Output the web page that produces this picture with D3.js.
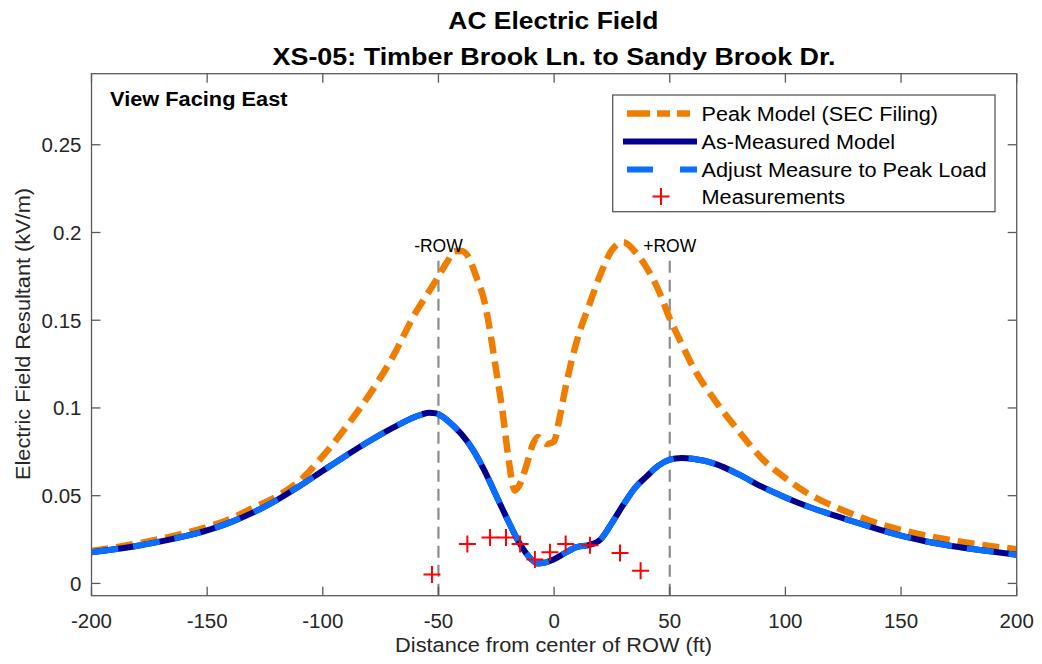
<!DOCTYPE html>
<html>
<head>
<meta charset="utf-8">
<script src="https://cdn.jsdelivr.net/npm/d3@7"></script>
<style>
  html, body { margin: 0; padding: 0; background: #fff; }
  svg { display: block; font-family: "Liberation Sans", Arial, Helvetica, sans-serif; }
</style>
</head>
<body>
<svg id="chart" width="1042" height="664"></svg>
<script>
// ---- data ----
const peakDist   = [-200,-180,-160,-150,-140,-130,-120,-110,-100,-90,-80,-70,-60,-55,-50,-46,-43,-40,-37,-34,-30,-25,-22,-20,-17,-15,-12,-9,-7,-5,-3,0,2,5,10,15,20,25,30,35,40,45,50,55,60,70,80,90,100,110,120,130,140,150,160,170,180,190,200];
const peakValues = [0.0185,0.0228,0.0285,0.0322,0.0368,0.0432,0.0495,0.0585,0.0725,0.0890,0.1073,0.1285,0.1540,0.1645,0.1750,0.1838,0.1893,0.1895,0.1860,0.1760,0.1600,0.1210,0.0950,0.0740,0.0530,0.0560,0.0670,0.0800,0.0835,0.0812,0.0795,0.0810,0.0920,0.1120,0.1390,0.1580,0.1760,0.1900,0.1945,0.1890,0.1800,0.1675,0.1510,0.1370,0.1235,0.1035,0.0865,0.0710,0.0600,0.0510,0.0445,0.0390,0.0342,0.0305,0.0275,0.0250,0.0229,0.0211,0.0195];

const measDist     = [-200,-180,-160,-150,-140,-130,-120,-110,-100,-90,-80,-70,-60,-57,-54,-51,-48,-45,-42,-40,-35,-30,-25,-20,-15,-10,-7,-5,0,5,10,15,20,25,30,35,40,45,50,55,60,70,80,90,100,110,120,130,140,150,160,170,180,190,200];
const measValues   = [0.0178,0.0215,0.0268,0.0302,0.0348,0.0405,0.0474,0.0555,0.0642,0.0728,0.0810,0.0885,0.0950,0.0964,0.0972,0.0969,0.0948,0.0915,0.0878,0.0850,0.0760,0.0640,0.0500,0.0360,0.0230,0.0140,0.0114,0.0116,0.0138,0.0175,0.0208,0.0218,0.0250,0.0345,0.0450,0.0545,0.0610,0.0670,0.0705,0.0715,0.0710,0.0680,0.0620,0.0550,0.0490,0.0437,0.0392,0.0350,0.0310,0.0272,0.0242,0.0218,0.0198,0.0180,0.0163];
const adjustValues = [0.0178,0.0215,0.0268,0.0302,0.0348,0.0405,0.0474,0.0555,0.0642,0.0728,0.0810,0.0885,0.0950,0.0964,0.0972,0.0969,0.0948,0.0915,0.0878,0.0850,0.0760,0.0640,0.0500,0.0360,0.0230,0.0140,0.0114,0.0116,0.0138,0.0175,0.0208,0.0218,0.0250,0.0345,0.0450,0.0545,0.0610,0.0670,0.0705,0.0715,0.0710,0.0680,0.0620,0.0550,0.0490,0.0437,0.0392,0.0350,0.0310,0.0272,0.0242,0.0218,0.0198,0.0180,0.0163];

const obsDist   = [-52.8,-37.5,-27.7,-20.8,-14.7,-8.3,-1.8,5.0,15.5,28.5,37.4];
const obsValues = [0.0051,0.0224,0.0262,0.0262,0.0224,0.0137,0.0177,0.0224,0.0218,0.0174,0.0072];

const rowEdges  = [-50, 50];
const rowLabels = ["-ROW", "+ROW"];

const xTicks = [-200,-150,-100,-50,0,50,100,150,200];
const yTicks = [0,0.05,0.1,0.15,0.2,0.25];
const yTickLabels = ["0","0.05","0.1","0.15","0.2","0.25"];

const legendLabels = ["Peak Model (SEC Filing)","As-Measured Model","Adjust Measure to Peak Load","Measurements"];
const legendWidths = [236.5, 193.5, 285, 143.5];

// ---- layout ----
const svg = d3.select("#chart");
const L = 91.5, R = 1016.7, T = 73.7, B = 595.7;
const x = d3.scaleLinear().domain([-200, 200]).range([L, R]);
const y = d3.scaleLinear().domain([-0.007, 0.2905]).range([B, T]);

const axisColor = "#262626";
const boxColor = "#5a5a5a";
const tickLen = 9;

svg.append("defs").append("clipPath").attr("id","clip")
  .append("rect").attr("x",L).attr("y",T).attr("width",R-L).attr("height",B-T);

const plot = svg.append("g").attr("clip-path","url(#clip)");

// ROW lines
plot.selectAll("line.row").data(rowEdges).enter().append("line")
  .attr("class","row")
  .attr("x1", d => x(d)).attr("x2", d => x(d))
  .attr("y1", y(-0.007)).attr("y2", y(0.186))
  .attr("stroke","#8c8c8c").attr("stroke-width",2.2)
  .attr("stroke-dasharray","12,7");

svg.selectAll("text.rowlab").data(rowEdges).enter().append("text")
  .attr("class","rowlab")
  .attr("x", d => x(d)).attr("y", 252)
  .attr("text-anchor","middle")
  .attr("font-size", 17.5)
  .attr("fill","#000")
  .text((d,i) => rowLabels[i]);

const line = d3.line().curve(d3.curveMonotoneX).x(d => x(d[0])).y(d => y(d[1]));

const peakData = peakDist.map((d,i) => [d, peakValues[i]]);
const measData = measDist.map((d,i) => [d, measValues[i]]);
const adjData  = measDist.map((d,i) => [d, adjustValues[i]]);

const orange = "#EE7D00", navy = "#00008C", lblue = "#0A6EFF";

plot.append("path").datum(peakData).attr("d", line)
  .attr("fill","none").attr("stroke",orange).attr("stroke-width",6.5)
  .attr("stroke-dasharray","17,8");

plot.append("path").datum(measData).attr("d", line)
  .attr("fill","none").attr("stroke",navy).attr("stroke-width",6);

plot.append("path").datum(adjData).attr("d", line)
  .attr("fill","none").attr("stroke",lblue).attr("stroke-width",6)
  .attr("stroke-dasharray","27,15");

// markers
const ms = 8.5;
const mk = svg.append("g");
obsDist.forEach((d,i) => {
  const cx = x(d), cy = y(obsValues[i]);
  mk.append("path")
    .attr("d", `M${cx-ms},${cy}H${cx+ms}M${cx},${cy-ms}V${cy+ms}`)
    .attr("stroke","#FF0000").attr("stroke-width",2).attr("fill","none");
});

// axes box
const ax = svg.append("g");
ax.append("rect").attr("x",L).attr("y",T).attr("width",R-L).attr("height",B-T)
  .attr("fill","none").attr("stroke",boxColor).attr("stroke-width",1.3);

xTicks.forEach(t => {
  const px = x(t);
  ax.append("line").attr("x1",px).attr("x2",px).attr("y1",B).attr("y2",B-tickLen)
    .attr("stroke",boxColor).attr("stroke-width",1.3);
  ax.append("line").attr("x1",px).attr("x2",px).attr("y1",T).attr("y2",T+tickLen)
    .attr("stroke",boxColor).attr("stroke-width",1.3);
  ax.append("text").attr("x",px).attr("y",627.5).attr("text-anchor","middle")
    .attr("font-size",20.5).attr("fill",axisColor).text(t);
});
yTicks.forEach((t,i) => {
  const py = y(t);
  ax.append("line").attr("x1",L).attr("x2",L+tickLen).attr("y1",py).attr("y2",py)
    .attr("stroke",boxColor).attr("stroke-width",1.3);
  ax.append("line").attr("x1",R).attr("x2",R-tickLen).attr("y1",py).attr("y2",py)
    .attr("stroke",boxColor).attr("stroke-width",1.3);
  ax.append("text").attr("x",L-10).attr("y",py+7.3).attr("text-anchor","end")
    .attr("font-size",20.5).attr("fill",axisColor).text(yTickLabels[i]);
});

// axis labels
svg.append("text").attr("x",(L+R)/2 - 0.5).attr("y",652).attr("text-anchor","middle")
  .attr("font-size",20.5).attr("fill",axisColor)
  .attr("textLength",317).attr("lengthAdjust","spacingAndGlyphs")
  .text("Distance from center of ROW (ft)");
svg.append("text").attr("transform",`translate(30,334) rotate(-90)`)
  .attr("text-anchor","middle").attr("font-size",20.5).attr("fill",axisColor)
  .attr("textLength",292).attr("lengthAdjust","spacingAndGlyphs")
  .text("Electric Field Resultant (kV/m)");

// titles
svg.append("text").attr("x",553.3).attr("y",28.5).attr("text-anchor","middle")
  .attr("font-size",24.5).attr("font-weight","bold").attr("fill","#000")
  .attr("textLength",210).attr("lengthAdjust","spacingAndGlyphs")
  .text("AC Electric Field");
svg.append("text").attr("x",554).attr("y",64.5).attr("text-anchor","middle")
  .attr("font-size",24.5).attr("font-weight","bold").attr("fill","#000")
  .attr("textLength",563).attr("lengthAdjust","spacingAndGlyphs")
  .text("XS-05: Timber Brook Ln. to Sandy Brook Dr.");

// annotation
svg.append("text").attr("x",110).attr("y",105.7).attr("font-size",19.5)
  .attr("font-weight","bold").attr("fill","#000")
  .attr("textLength",177.5).attr("lengthAdjust","spacingAndGlyphs")
  .text("View Facing East");

// legend
const lg = svg.append("g");
lg.append("rect").attr("x",612.7).attr("y",95).attr("width",995-612.7).attr("height",211.7-95)
  .attr("fill","#fff").attr("stroke",boxColor).attr("stroke-width",1.3);
const rowY = [113.5, 141.5, 169.5, 196.5];
const lx1 = 623, lx2 = 697;
lg.append("line").attr("x1",lx1+4).attr("x2",lx2).attr("y1",rowY[0]).attr("y2",rowY[0])
  .attr("stroke",orange).attr("stroke-width",6.5).attr("stroke-dasharray","23,7,13,7,13");
lg.append("line").attr("x1",lx1).attr("x2",lx2).attr("y1",rowY[1]).attr("y2",rowY[1])
  .attr("stroke",navy).attr("stroke-width",6);
lg.append("line").attr("x1",lx1+4).attr("x2",lx2).attr("y1",rowY[2]).attr("y2",rowY[2])
  .attr("stroke",lblue).attr("stroke-width",6).attr("stroke-dasharray","26,27,20");
lg.append("path").attr("d",`M${661-ms},${rowY[3]}H${661+ms}M661,${rowY[3]-ms}V${rowY[3]+ms}`)
  .attr("stroke","#FF0000").attr("stroke-width",2).attr("fill","none");
legendLabels.forEach((s,i) => {
  lg.append("text").attr("x",701.5).attr("y",rowY[i]+7.2).attr("font-size",20)
    .attr("fill","#000")
    .attr("textLength",legendWidths[i]).attr("lengthAdjust","spacingAndGlyphs")
    .text(s);
});
</script>
</body>
</html>
